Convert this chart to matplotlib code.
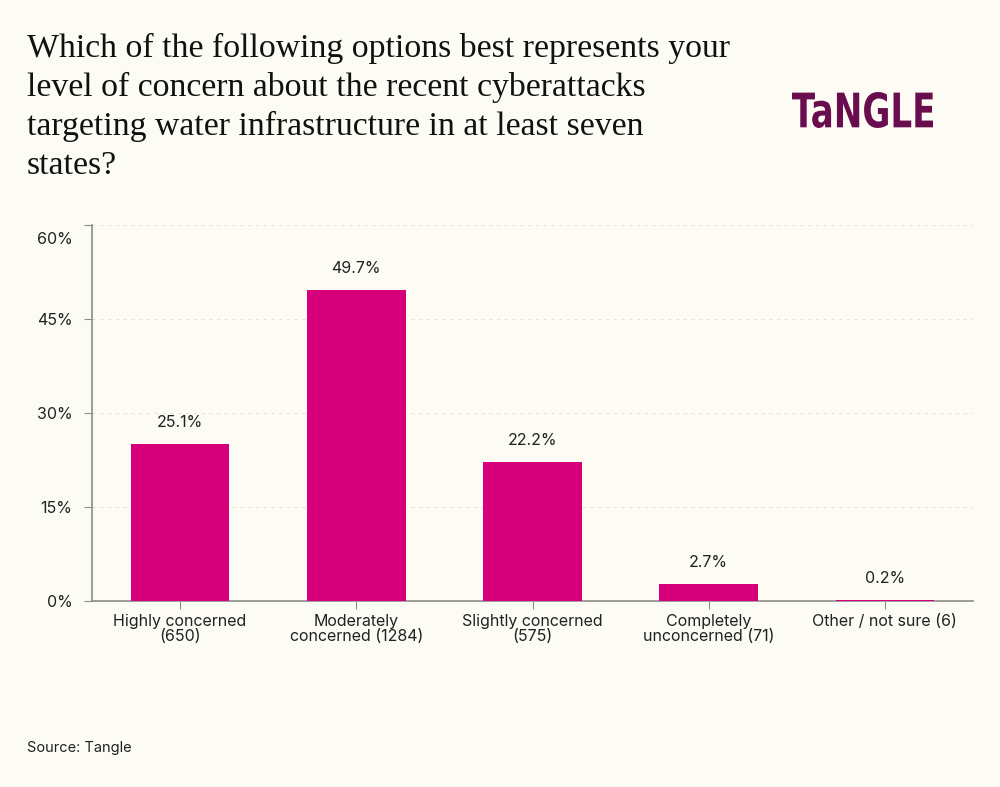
import matplotlib.pyplot as plt
from matplotlib.ticker import FuncFormatter
from matplotlib.textpath import TextPath
from matplotlib.patches import PathPatch
from matplotlib.font_manager import FontProperties
from matplotlib.transforms import Affine2D, IdentityTransform, ScaledTranslation

categories = ["Highly concerned\n(650)", "Moderately\nconcerned (1284)", "Slightly concerned\n(575)",
              "Completely\nunconcerned (71)", "Other / not sure (6)"]
values = [25.1, 49.7, 22.2, 2.7, 0.2]
yticks = [0, 15, 30, 45, 60]

bg = "#fcfbf4"
bar_color = "#d6007a"
text_color = "#222222"
axis_color = "#8c8c8c"

plt.rcParams['font.family'] = ['Inter', 'DejaVu Sans']

fig = plt.figure(figsize=(10, 7.87), dpi=100, facecolor=bg)
ax = fig.add_axes([0.092, 0.2363, 0.881, 0.4778], facecolor=bg)

x = list(range(len(categories)))
ax.bar(x, values, width=0.56, color=bar_color, zorder=3)
for xi, v in zip(x, values):
    ax.annotate(f"{v}%", (xi, v), xytext=(0, 10), textcoords="offset points",
                ha="center", va="bottom", fontsize=11.5, color=text_color)

ax.set_xlim(-0.5, 4.5)
ax.set_ylim(0, 60)
ax.set_yticks(yticks)
ax.yaxis.set_major_formatter(FuncFormatter(lambda v, p: f"{v:.0f}%"))
ax.set_xticks(x)
ax.set_xticklabels(categories, fontsize=11.5, color=text_color, linespacing=1.05)
ax.tick_params(axis="y", labelsize=11.5, labelcolor=text_color, color=axis_color, length=6, pad=8)
ax.tick_params(axis="x", color=axis_color, length=6, pad=3)
ax.grid(axis="y", color="#e6e4da", linestyle=(0, (3, 4)), linewidth=0.8, zorder=0)

# top tick label sits just below the axis top
top_label = ax.get_yticklabels()[-1]
top_label.set_transform(top_label.get_transform() + ScaledTranslation(0, -13 / 100, fig.dpi_scale_trans))

for side in ["top", "right"]:
    ax.spines[side].set_visible(False)
for side in ["left", "bottom"]:
    ax.spines[side].set_color(axis_color)
    ax.spines[side].set_linewidth(1.2)

fig.text(0.027, 0.958, "Which of the following options best represents your\n"
         "level of concern about the recent cyberattacks\n"
         "targeting water infrastructure in at least seven\n"
         "states?", ha="left", va="top", fontsize=24.3, family="Liberation Serif",
         color="#111111", linespacing=1.337)

# logo: bold text squeezed into a narrow box
tp = TextPath((0, 0), "TaNGLE", size=100, prop=FontProperties(family="DejaVu Sans", weight="bold"))
ext = tp.get_extents()
logo_tf = (Affine2D().translate(-ext.x0, -ext.y0)
           .scale(141 / ext.width, 36 / ext.height)
           .translate(792, 787 - 128))
fig.patches.append(PathPatch(tp, transform=logo_tf + IdentityTransform(), facecolor="#6a0d4f",
                             edgecolor="none", figure=fig))

fig.text(0.027, 0.050, "Source: Tangle", ha="left", va="center", fontsize=10.5, color=text_color)

fig.savefig("out.png", dpi=100, facecolor=bg)
